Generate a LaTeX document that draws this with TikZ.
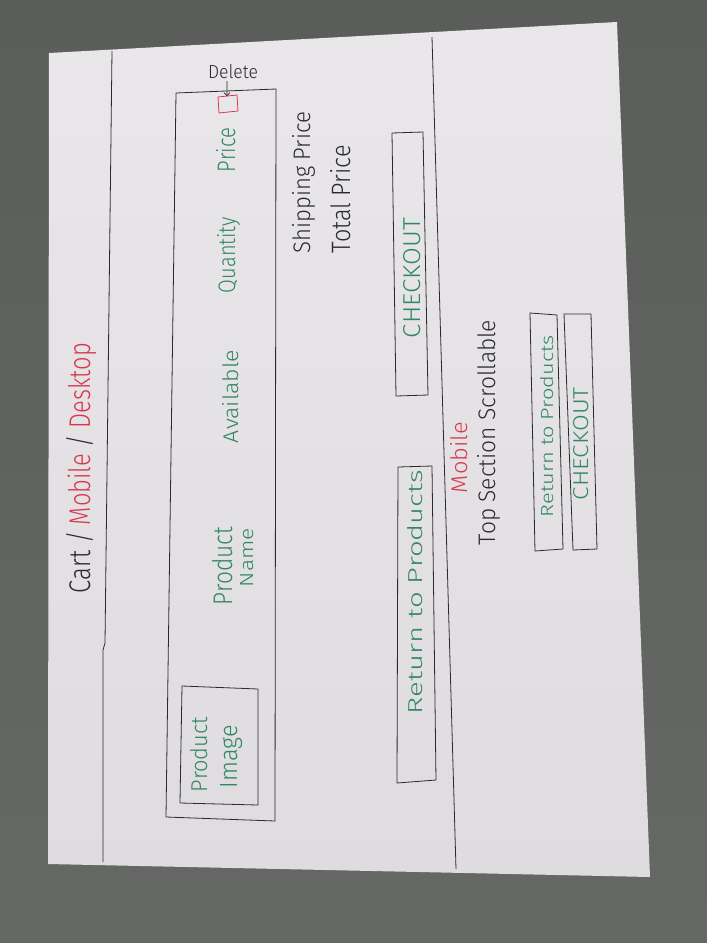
\documentclass[tikz,border=0pt]{standalone}
\usepackage{fontspec}
\setmainfont{Fira Sans}[UprightFont=* Light]
\usetikzlibrary{arrows.meta}

\definecolor{bgtop}{HTML}{5A5D5A}
\definecolor{bgbot}{HTML}{666865}
\definecolor{papertop}{HTML}{EAE7EA}
\definecolor{paperbot}{HTML}{DFDCDF}
\definecolor{ink}{HTML}{2A2A2C}
\definecolor{greenink}{HTML}{2F8763}
\definecolor{redink}{HTML}{D8384E}

% \fitlabel{length}{height}{text}: handwritten-style label stretched to size
\newcommand{\fitlabel}[3]{\resizebox{#1pt}{#2pt}{#3}}

\tikzset{
  pen/.style={draw=ink, line width=0.8pt, line join=round},
  redpen/.style={draw=redink, line width=0.8pt},
  vlabel/.style={rotate=90, anchor=base west, inner sep=0pt, outer sep=0pt, text=ink},
  hlabel/.style={anchor=base west, inner sep=0pt, outer sep=0pt, text=ink},
  green/.style={text=greenink},
  red/.style={text=redink},
}

\begin{document}
\begin{tikzpicture}[x=1pt, y=-1pt]
\useasboundingbox (0,0) rectangle (707,943);

% table top behind the sheet
\shade[top color=bgtop, bottom color=bgbot] (0,0) rectangle (707,943);

% the sheet of paper
\shade[top color=papertop, bottom color=paperbot]
  (49,53) -- (617,22) -- (650,877) -- (48,864) -- cycle;

% column guide lines
\draw[pen] (112,51) -- (105,643) -- (103,650) -- (103,862);
\draw[pen] (432,37) -- (456,869);

% product row frame and image placeholder
\draw[pen] (176,93) -- (276,89) -- (275,821) -- (166,817) -- cycle;
\draw[pen] (182,686) -- (258,689) -- (258,805) -- (180,803) -- cycle;

% desktop buttons
\draw[pen] (392,133) -- (423,132) -- (428,395) -- (396,396) -- cycle;
\draw[pen] (398,467) -- (432,466) -- (436,780) -- (397,783) -- cycle;

% mobile buttons
\draw[pen] (530,313) -- (557,315) -- (563,549) -- (535,551) -- cycle;
\draw[pen] (564,314) -- (591,314) -- (597,549) -- (573,550) -- cycle;

% delete control
\draw[redpen] (218,97) -- (237,95) -- (238,111) -- (219,113) -- cycle;
\coordinate (delbox) at (227,96);

% title
\node[vlabel] (title) at (90,593)
  {\fitlabel{250}{24}{Cart / \textcolor{redink}{Mobile} / \textcolor{redink}{Desktop}}};

% column headings inside the product row
\node[vlabel, green] (pname1) at (232,605) {\fitlabel{78}{20}{Product}};
\node[vlabel, green] (pname2) at (253,587) {\fitlabel{59}{13}{Name}};
\node[vlabel, green] (avail) at (238,443) {\fitlabel{93}{16}{Available}};
\node[vlabel, green] (qty) at (235,293) {\fitlabel{76}{18}{Quantity}};
\node[vlabel, green] (price) at (235,172) {\fitlabel{44}{19}{Price}};
\node[vlabel, green] (pimg1) at (207,792) {\fitlabel{75}{17}{Product}};
\node[vlabel, green] (pimg2) at (237,788) {\fitlabel{63}{17}{Image}};

% totals
\node[vlabel] (ship) at (310,253) {\fitlabel{141}{18}{Shipping Price}};
\node[vlabel] (total) at (350,253) {\fitlabel{108}{20}{Total Price}};

% desktop button captions
\node[vlabel, green] (chk) at (420,338) {\fitlabel{120}{17}{CHECKOUT}};
\node[vlabel, green] (ret) at (422,714) {\fitlabel{244}{15}{Return to Products}};

% mobile notes and buttons
\node[vlabel, red] (mob) at (467,493) {\fitlabel{71}{17}{Mobile}};
\node[vlabel] (scroll) at (495,545) {\fitlabel{225}{18}{Top Section Scrollable}};
\node[vlabel, green] (mret) at (553,517) {\fitlabel{182}{13}{Return to Products}};
\node[vlabel, green] (mchk) at (588,500) {\fitlabel{113}{15}{CHECKOUT}};

% delete annotation
\node[hlabel] (del) at (208,78) {\fitlabel{50}{14}{Delete}};
\draw[pen, line width=0.6pt, -{Straight Barb[length=3pt]}] (del.south) ++(-6,3) coordinate (delstart) -- (delbox);

\end{tikzpicture}
\end{document}
